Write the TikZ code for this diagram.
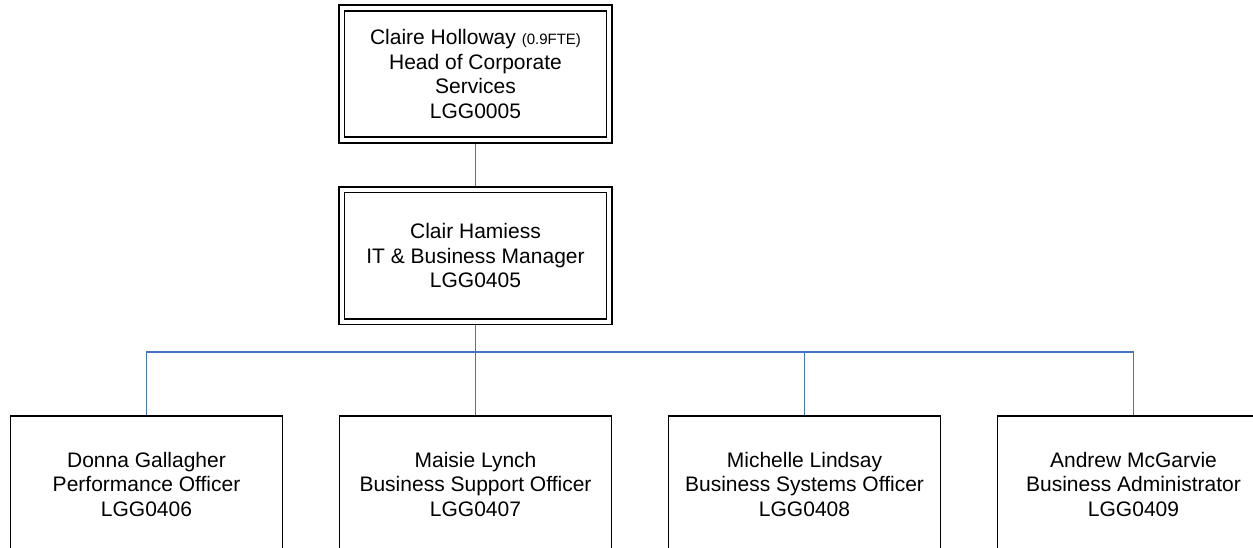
\documentclass[tikz,border=0pt]{standalone}
\usepackage{fontspec}
\setmainfont{Liberation Sans}
\usetikzlibrary{positioning}
\definecolor{linkblue}{RGB}{68,114,196}

\begin{document}
\begin{tikzpicture}[x=1pt, y=-1pt,
  post/.style={draw, line width=1.6pt, fill=white, inner sep=0pt, align=center,
    minimum width=272pt, minimum height=137pt, font=\fontsize{21}{24.5}\selectfont},
  head/.style={post, line width=1.8pt, double, double distance=3.7pt, outer sep=3.65pt,
    minimum width=267.5pt, minimum height=132pt},
  link/.style={draw=linkblue, line width=1.8pt}]
\pgfmathsetmacro{\rowy}{484.25} % bottom row centre
\clip (0,0) rectangle (1253,548);
\node[head] (hcs) at (475.5,74) {Claire Holloway {\fontsize{15}{18}\selectfont(0.9FTE)}\\Head of Corporate\\Services\\LGG0005};
\node[head] (itbm) at (475.5,255.75) {Clair Hamiess\\IT \& Business Manager\\LGG0405};
\coordinate (bus) at (475.5,352);
\foreach \x/\nm/\who/\role/\code in {146.5/perf/Donna Gallagher/Performance Officer/LGG0406,
    475.5/supp/Maisie Lynch/Business Support Officer/LGG0407,
    804.5/syst/Michelle Lindsay/Business Systems Officer/LGG0408,
    1133.5/admin/Andrew McGarvie/Business Administrator/LGG0409}
  \node[post] (\nm) at (\x,\rowy) {\who\\\role\\\code};
\draw[link] (hcs) -- (itbm);
\draw[link] (itbm) -- (supp);
\draw[link] (perf.north) |- (bus) -| (admin.north);
\draw[link] (syst.north) |- (bus);
\end{tikzpicture}
\end{document}
